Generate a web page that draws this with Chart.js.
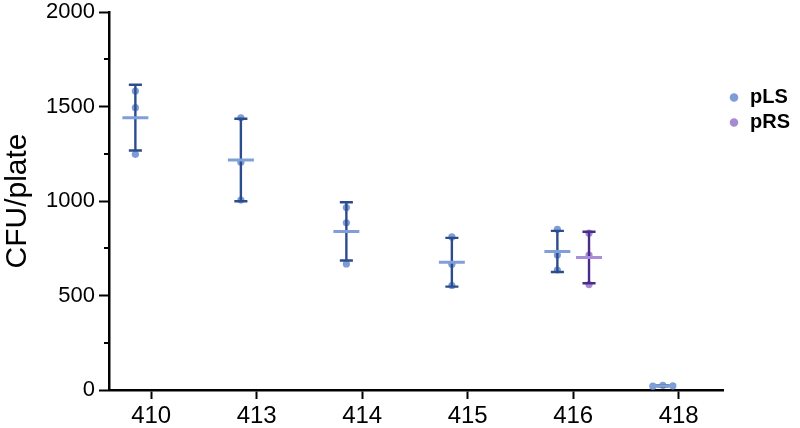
<!DOCTYPE html>
<html>
<head>
<meta charset="utf-8">
<script src="https://cdn.jsdelivr.net/npm/chart.js@4"></script>
<style>
  html, body { margin: 0; padding: 0; background: #fff; }
  #wrap { width: 800px; height: 428px; }
</style>
</head>
<body>
<div id="wrap"><canvas id="cfuChart" width="800" height="428"></canvas></div>
<script>
// Data
const groups = ['410', '413', '414', '415', '416', '418'];
const yTicks = [0, 500, 1000, 1500, 2000];
const yMinorTicks = [250, 750, 1250, 1750];

// pLS: three replicate plates per strain, plus mean and SD
const pLSPoints = [
    [1582, 1494, 1247],
    [1440, 1205, 1005],
    [965, 885, 667],
    [810, 665, 553],
    [850, 714, 635],
    [20, 25, 22]
];
const pLSMean = [1441, 1217, 839, 676, 733, 22];
const pLSSD = [174, 218, 154, 129, 109, 3];

// pRS: only measured for 416
const pRSGroup = 4;
const pRSPoints = [830, 714, 558];
const pRSMean = 701;
const pRSSD = 136;

// layout helpers (category offsets, not data)
const SIDE = 0.15;      // pLS left of tick, pRS right of tick
const CAP = 0.062;
const MEANW = 0.123;
const jitter418 = [-0.095, 0, 0.095];
const FONT = '"Liberation Sans", Arial, sans-serif';

const C = {
    lsPoint: '#7D9DD7', lsBar: '#2C4D8D', lsMean: '#809FD9',
    rsPoint: '#A68BD3', rsBar: '#4A2C88', rsMean: '#A98DD8'
};

function pointData(groupIdx, vals, side) {
    return vals.map((v, k) => ({
        x: groupIdx + side + (groups[groupIdx] === '418' ? jitter418[k] : 0),
        y: v
    }));
}

function errorSegs(x, mean, sd) {
    const lo = mean - sd, hi = mean + sd;
    return [
        {x: x, y: lo}, {x: x, y: hi}, {x: x, y: null},
        {x: x - CAP, y: lo}, {x: x + CAP, y: lo}, {x: x, y: null},
        {x: x - CAP, y: hi}, {x: x + CAP, y: hi}, {x: x, y: null}
    ];
}

function meanSeg(x, mean) {
    return [{x: x - MEANW, y: mean}, {x: x + MEANW, y: mean}, {x: x, y: null}];
}

const lsPts = [], lsErr = [], lsMeanLines = [];
groups.forEach((g, i) => {
    lsPts.push(...pointData(i, pLSPoints[i], -SIDE));
    lsErr.push(...errorSegs(i - SIDE, pLSMean[i], pLSSD[i]));
    lsMeanLines.push(...meanSeg(i - SIDE, pLSMean[i]));
});
const rsPts = pointData(pRSGroup, pRSPoints, SIDE);
const rsErr = errorSegs(pRSGroup + SIDE, pRSMean, pRSSD);
const rsMeanLines = meanSeg(pRSGroup + SIDE, pRSMean);

// short minor ticks on the y axis
const minorTicks = {
    id: 'minorTicks',
    afterDraw(chart) {
        const y = chart.scales.y;
        const ctx = chart.ctx;
        ctx.save();
        ctx.strokeStyle = '#000';
        ctx.lineWidth = 2;
        yMinorTicks.forEach(v => {
            const py = Math.round(y.getPixelForValue(v));
            ctx.beginPath();
            ctx.moveTo(y.right, py);
            ctx.lineTo(y.right - 5, py);
            ctx.stroke();
        });
        ctx.restore();
    }
};

const lineDs = (label, data, color, width, order) => ({
    label, data, showLine: true, borderColor: color, borderWidth: width,
    pointRadius: 0, pointHoverRadius: 0, spanGaps: false, order, clip: false
});

new Chart(document.getElementById('cfuChart'), {
    type: 'line',
    data: {
        datasets: [
            { label: 'pLS', data: lsPts, showLine: false, pointRadius: 3.6, pointBackgroundColor: C.lsPoint,
              pointBorderWidth: 0, borderColor: C.lsPoint, backgroundColor: C.lsPoint, order: 3, clip: false },
            { label: 'pRS', data: rsPts, showLine: false, pointRadius: 3.6, pointBackgroundColor: C.rsPoint,
              pointBorderWidth: 0, borderColor: C.rsPoint, backgroundColor: C.rsPoint, order: 3, clip: false },
            lineDs('_lsErr', lsErr, C.lsBar, 2.4, 2),
            lineDs('_rsErr', rsErr, C.rsBar, 2.4, 2),
            lineDs('_lsMean', lsMeanLines, C.lsMean, 3, 1),
            lineDs('_rsMean', rsMeanLines, C.rsMean, 3, 1)
        ]
    },
    options: {
        responsive: false,
        animation: false,
        events: [],
        layout: { padding: { top: 12, right: 0, left: 0, bottom: 0 } },
        plugins: {
            tooltip: { enabled: false },
            legend: {
                position: 'right',
                align: 'start',
                title: { display: true, text: '', padding: { top: 56, bottom: 0 } },
                labels: {
                    filter: item => !item.text.startsWith('_'),
                    usePointStyle: true,
                    pointStyle: 'circle',
                    boxWidth: 12,
                    boxHeight: 6,
                    padding: 5,
                    color: '#000',
                    font: { family: FONT, size: 20, weight: 'bold', lineHeight: 1.3 }
                }
            }
        },
        scales: {
            x: {
                type: 'linear',
                min: -0.4,
                max: 5.42,
                afterBuildTicks: s => { s.ticks = groups.map((g, i) => ({ value: i })); },
                afterFit: s => { s.height = 38; s.paddingLeft = 0; s.paddingRight = 0; },
                border: { display: true, color: '#000', width: 2.5 },
                grid: { drawOnChartArea: false, drawTicks: true, tickLength: 9, tickColor: '#000', tickWidth: 2 },
                ticks: {
                    callback: v => groups[v],
                    color: '#000',
                    padding: 3,
                    maxRotation: 0,
                    autoSkip: false,
                    font: { family: FONT, size: 24 }
                }
            },
            y: {
                min: 0,
                max: 2000,
                afterBuildTicks: s => { s.ticks = yTicks.map(v => ({ value: v })); },
                afterFit: s => { s.width = 109; s.paddingTop = 0; s.paddingBottom = 0; },
                border: { display: true, color: '#000', width: 2.5 },
                grid: { drawOnChartArea: false, drawTicks: true, tickLength: 10, tickColor: '#000', tickWidth: 2 },
                ticks: {
                    callback: v => String(v),
                    color: '#000',
                    padding: 4,
                    font: { family: FONT, size: 22 }
                },
                title: {
                    display: true,
                    text: 'CFU/plate',
                    color: '#000',
                    padding: { top: 0, bottom: 2 },
                    font: { family: FONT, size: 30 }
                }
            }
        }
    },
    plugins: [minorTicks]
});
</script>
</body>
</html>
